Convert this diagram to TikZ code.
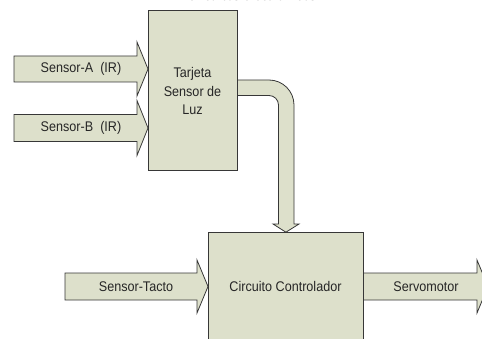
\documentclass[tikz,border=0pt]{standalone}
\usepackage{fontspec}
\setmainfont{Liberation Sans}[FakeStretch=0.9]
\newfontfamily\capfont{Liberation Serif}
\usetikzlibrary{backgrounds,calc}
\definecolor{blockfill}{RGB}{221,224,203}
\definecolor{blockline}{RGB}{55,55,55}
\newcommand{\blockarrow}[5]{%
  \begin{scope}[shift={(#1)}]
    \draw[blk] (0,0) -- (-#5,#4) -- (-#5,#3) -- (-#2,#3) -- (-#2,-#3) -- (-#5,-#3) -- (-#5,-#4) -- cycle;
  \end{scope}}
\begin{document}
\begin{tikzpicture}[x=1pt,y=1pt,
  blk/.style={draw=blockline,fill=blockfill,line width=0.8pt,inner sep=0pt},
  lbl/.style={font=\fontsize{14}{18.5}\selectfont,align=center,text=black!85,inner sep=0pt}]
\useasboundingbox (0,0) rectangle (482,338);
% caption (cut off at the top)
\node[font=\capfont\fontsize{15}{18}\selectfont,anchor=base,inner sep=0pt] (cap) at (252,337) {circuitos electrónicos};
% blocks
\node[blk,anchor=south west,minimum width=89,minimum height=160] (tarjeta) at (148,167) {};
\node[lbl] (tarjetatxt) at (192.5,247) {Tarjeta\\Sensor de\\Luz};
\node[blk,anchor=south west,minimum width=155,minimum height=115] (circuito) at (208,-10) {};
\node[lbl] (circuitotxt) at (285.5,51.5) {Circuito Controlador};
% input / output arrows
\coordinate (tipA) at (tarjeta.west |- 0,269);
\coordinate (tipB) at (tarjeta.west |- 0,210);
\coordinate (tipT) at (circuito.west |- 0,51.5);
\coordinate (tipS) at (488,51.5);
\begin{scope}[on background layer]
  \blockarrow{tipA}{134}{13}{27}{11}
  \blockarrow{tipB}{134}{13.5}{27.5}{11}
  \blockarrow{tipT}{143}{13.5}{26.5}{11}
  \blockarrow{tipS}{125}{13.5}{26.5}{11}
  % bent arrow from Tarjeta to Circuito
  \coordinate (tipD) at (circuito.north);
  \draw[blk] (237,258) -- (269,258) arc[start angle=90,end angle=0,radius=25]
    -- (294,114) -- (299,114) -- (tipD) -- (273,114) -- (278.5,114)
    -- (278.5,233) arc[start angle=0,end angle=90,radius=9.5] -- (237,242.5) -- cycle;
\end{scope}
\node[lbl] (la) at (81,269) {Sensor-A\ \ (IR)};
\node[lbl] (lb) at (81,210) {Sensor-B\ \ (IR)};
\node[lbl] (lt) at (136,51.5) {Sensor-Tacto};
\node[lbl] (ls) at (426,51.5) {Servomotor};
\end{tikzpicture}
\end{document}
